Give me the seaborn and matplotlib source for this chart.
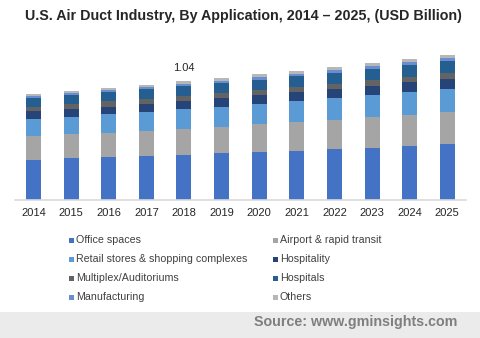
import matplotlib
matplotlib.use("Agg")
import matplotlib.pyplot as plt
from matplotlib.patches import Rectangle
import numpy as np
import pandas as pd
import seaborn as sns

years = ["2014", "2015", "2016", "2017", "2018", "2019",
         "2020", "2021", "2022", "2023", "2024", "2025"]

office_spaces = [0.350, 0.370, 0.379, 0.387, 0.396, 0.414, 0.422, 0.431, 0.449, 0.457, 0.475, 0.492]
airport_transit = [0.210, 0.210, 0.210, 0.218, 0.227, 0.227, 0.245, 0.253, 0.253, 0.271, 0.271, 0.280]
retail_stores = [0.149, 0.146, 0.166, 0.166, 0.175, 0.175, 0.175, 0.184, 0.192, 0.192, 0.201, 0.201]
hospitality = [0.070, 0.070, 0.061, 0.070, 0.070, 0.079, 0.079, 0.079, 0.079, 0.079, 0.087, 0.087]
multiplex = [0.038, 0.047, 0.050, 0.041, 0.044, 0.044, 0.044, 0.044, 0.044, 0.052, 0.044, 0.052]
hospitals = [0.079, 0.079, 0.082, 0.090, 0.087, 0.087, 0.087, 0.096, 0.096, 0.096, 0.105, 0.105]
manufacturing = [0.017, 0.015, 0.015, 0.017, 0.017, 0.017, 0.026, 0.017, 0.026, 0.026, 0.026, 0.026]
others = [0.017, 0.017, 0.017, 0.017, 0.024, 0.023, 0.026, 0.023, 0.026, 0.026, 0.026, 0.026]

series_names = ["Office spaces", "Airport & rapid transit",
                "Retail stores & shopping complexes", "Hospitality",
                "Multiplex/Auditoriums", "Hospitals",
                "Manufacturing", "Others"]
series_values = [office_spaces, airport_transit, retail_stores, hospitality,
                 multiplex, hospitals, manufacturing, others]
series_colors = ["#4472C4", "#A5A5A5", "#5B9BD5", "#264478",
                 "#636363", "#255E91", "#698ED0", "#B7B7B7"]

labeled_year = "2018"
labeled_total = "1.04"

sns.set_theme(style="white")
plt.rcParams["font.family"] = ["Liberation Sans", "DejaVu Sans"]

fig = plt.figure(figsize=(4.8, 3.38), dpi=100)
ax = fig.add_axes([0.0306, 0.408, 0.9404, 0.474])

# Stacked bars: draw cumulative totals from the top layer downwards
df = pd.DataFrame({name: vals for name, vals in zip(series_names, series_values)})
df["year"] = years
cum = df[series_names].cumsum(axis=1)
for name, color in reversed(list(zip(series_names, series_colors))):
    sns.barplot(x=df["year"], y=cum[name], color=color, width=0.4,
                saturation=1, ax=ax, linewidth=0)

ax.set_xlim(-0.5, len(years) - 0.5)
ax.set_ylim(0, 1.4)
ax.set_xlabel("")
ax.set_ylabel("")
ax.set_yticks([])
for s in ["top", "right", "left"]:
    ax.spines[s].set_visible(False)
ax.spines["bottom"].set_color("#D9D9D9")
ax.spines["bottom"].set_linewidth(1.2)
ax.tick_params(axis="x", length=0, pad=6, labelsize=8, labelcolor="#262626")

# Total label above the highlighted year
idx = years.index(labeled_year)
total = cum[series_names[-1]].iloc[idx]
ax.text(idx, total + 0.07, labeled_total, ha="center", va="bottom",
        fontsize=8, color="#262626")

fig.text(0.508, 0.953, "U.S. Air Duct Industry, By Application, 2014 \u2013 2025, (USD Billion)",
         ha="center", va="center", fontsize=10.3, fontweight="bold", color="#262626")

# Legend laid out in two columns, row by row
W, H = 480.0, 338.0
col_x = [69, 273]
row_y = [240, 259, 278, 297]
for i, (name, color) in enumerate(zip(series_names, series_colors)):
    cx = col_x[i % 2]
    cy = row_y[i // 2]
    fig.patches.append(Rectangle((cx / W, (H - cy - 2.5) / H), 5 / W, 5 / H,
                                 transform=fig.transFigure, facecolor=color,
                                 edgecolor="none"))
    fig.text((cx + 7) / W, (H - cy) / H, name, ha="left", va="center",
             fontsize=7.7, color="#404040")

# Source footer band
fig.patches.append(Rectangle((0, 0), 1, (H - 312) / H, transform=fig.transFigure,
                             facecolor="#EBEBEB", edgecolor="none", zorder=0))
fig.text(457 / W, (H - 322) / H, "Source: www.gminsights.com", ha="right",
         va="center", fontsize=10.3, fontweight="bold", color="#7F7F7F")

fig.savefig("out.png", dpi=100)
